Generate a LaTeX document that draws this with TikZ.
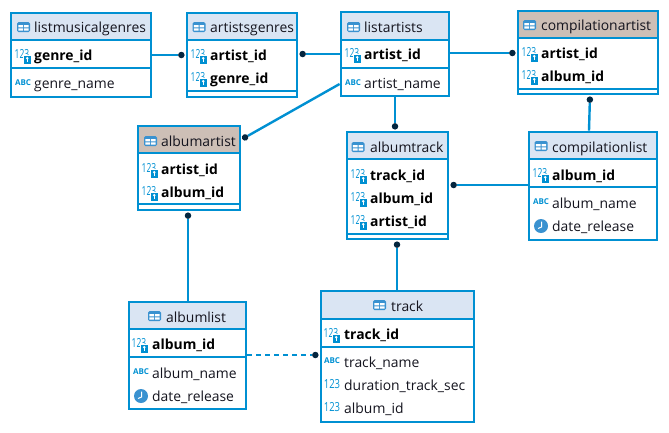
\documentclass[tikz,border=0pt]{standalone}
\usepackage{fontspec}
\setmainfont{Open Sans}
\usetikzlibrary{arrows.meta}
\definecolor{dbblue}{HTML}{0090D2}
\definecolor{headblue}{HTML}{DAE5F3}
\definecolor{headbrown}{HTML}{CDBFB6}
\definecolor{iconblue}{HTML}{3A92D0}
\definecolor{inktext}{HTML}{14141E}
\definecolor{dotink}{HTML}{04263F}

\begin{document}
\begin{tikzpicture}[
    x=1pt, y=-1pt,
    tablebox/.style={draw=dbblue, line width=2.8pt, minimum width=#1, inner sep=0pt},
    sepline/.style={draw=dbblue, line width=1.2pt},
    headtext/.style={anchor=west, inner sep=0pt, font=\fontsize{13.9}{14}\selectfont, text=inktext,
                     text height=12pt, text depth=2pt},
    coltext/.style={headtext},
    keytext/.style={headtext, font=\fontsize{13.9}{14}\selectfont\bfseries, text=black},
    link/.style={draw=dbblue, line width=2.4pt, -{Circle[length=6.5pt,width=6.5pt,fill=dotink,line width=0pt,color=dotink]}, shorten >=1pt},
    tblicon/.pic={
        \fill[iconblue, rounded corners=1.5pt] (-6.5,-5) rectangle (6.5,5);
        \fill[white] (-5.2,-1.8) rectangle (-0.5,0.3) (0.5,-1.8) rectangle (5.2,0.3);
        \fill[white] (-5.2,1.3) rectangle (-0.5,3.6) (0.5,1.3) rectangle (5.2,3.6);
    },
    numicon/.pic={
        \node[inner sep=0pt, text=dbblue, font=\fontsize{10}{10}\selectfont] (numtext) at (0,0) {\scalebox{.95}[1.25]{123}};
    },
    keyicon/.pic={
        \node[inner sep=0pt, text=dbblue, font=\fontsize{10}{10}\selectfont] (keytxt) at (-1,-0.5) {\scalebox{.85}[1.25]{123}};
        \fill[white] (-0.5,0) rectangle (8.5,8.5);
        \fill[dbblue] (0.5,1) rectangle (8,8.5);
        \fill[white] (4.2,3.2) circle (1.4pt);
        \draw[white, line width=0.7pt] (4.2,4) -- (4.2,7);
    },
    abcicon/.pic={
        \node[inner sep=0pt, text=dbblue, font=\fontsize{8}{8}\selectfont\bfseries] (abctxt) at (0,0) {ABC};
    },
    clockicon/.pic={
        \fill[iconblue] (0,0) circle (7pt);
        \draw[white, line width=1pt] (0.6,-4.5) -- (0.6,1) -- (-3,2.5);
    },
]
\useasboundingbox (0,0) rectangle (669,432);

% header fills
\fill[headblue] (11,13) rectangle (151,40);
\fill[headblue] (187,13) rectangle (297,40);
\fill[headblue] (341,12) rectangle (449,40);
\fill[headbrown] (518,11) rectangle (658,38);
\fill[headbrown] (138,126) rectangle (240,153);
\fill[headblue] (347,132) rectangle (448,159);
\fill[headblue] (529,132) rectangle (657,159);
\fill[headblue] (129,302) rectangle (246,329);
\fill[headblue] (321,291) rectangle (474,319);

% tables
\node[tablebox=140pt, minimum height=84pt] (lmg) at (81,55) {};
\node[tablebox=110pt, minimum height=84pt] (ag) at (242,55) {};
\node[tablebox=108pt, minimum height=84pt] (la) at (395,54) {};
\node[tablebox=140pt, minimum height=83pt] (ca) at (588,52.5) {};
\node[tablebox=102pt, minimum height=84pt] (aa) at (189,168) {};
\node[tablebox=101pt, minimum height=107pt] (at) at (397.5,185.5) {};
\node[tablebox=128pt, minimum height=108pt] (cl) at (593,186) {};
\node[tablebox=117pt, minimum height=107pt] (al) at (187.5,355.5) {};
\node[tablebox=153pt, minimum height=131pt] (tr) at (397.5,356.5) {};

% separators
\foreach \xa/\xb/\y in {11/151/40, 11/151/68, 187/297/40, 187/297/91, 341/449/40, 341/449/68,
    518/658/38, 518/658/89, 138/240/153, 138/240/204, 347/448/159, 347/448/234,
    529/657/159, 529/657/187, 129/246/329, 129/246/357, 321/474/319, 321/474/347}
    \draw[sepline] (\xa,\y) -- (\xb,\y);

% icons
\foreach \x/\y in {23.5/27, 199/27, 353.5/27, 529.5/25, 150.5/141, 358/147, 541/146, 154.5/316, 379.5/305}
    \pic at (\x,\y) {tblicon};
\foreach \x/\y in {23/55, 199/55, 199/78, 353/54, 530/53, 530/76, 150/169, 150/192,
    359/175, 359/198, 359/221, 541/174, 140/344, 332/334}
    \pic at (\x,\y) {keyicon};
\foreach \x/\y in {23/83, 353/83, 541/202, 141/372, 332/361}
    \pic at (\x,\y) {abcicon};
\foreach \x/\y in {541/226, 141/396}
    \pic at (\x,\y) {clockicon};
\foreach \x/\y in {332/384, 332/407}
    \pic at (\x,\y) {numicon};

% listmusicalgenres
\node[headtext] (lmgname) at (34,27) {listmusicalgenres};
\node[keytext] (lmggenre) at (34,55.5) {genre\_id};
\node[coltext] (lmgtitle) at (34,83) {genre\_name};
% artistsgenres
\node[headtext] (agname) at (210,27) {artistsgenres};
\node[keytext] (agartist) at (210,55.5) {artist\_id};
\node[keytext] (aggenre) at (210,78) {genre\_id};
% listartists
\node[headtext] (laname) at (364,27) {listartists};
\node[keytext] (laartist) at (364,54.5) {artist\_id};
\node[coltext] (latitle) at (364,83) {artist\_name};
% compilationartist
\node[headtext] (caname) at (541,25.5) {compilationartist};
\node[keytext] (caartist) at (541,53) {artist\_id};
\node[keytext] (caalbum) at (541,76) {album\_id};
% albumartist
\node[headtext] (aaname) at (161,141) {albumartist};
\node[keytext] (aaartist) at (161,169) {artist\_id};
\node[keytext] (aaalbum) at (161,192) {album\_id};
% albumtrack
\node[headtext] (atname) at (370,147) {albumtrack};
\node[keytext] (attrack) at (370,175) {track\_id};
\node[keytext] (atalbum) at (370,198) {album\_id};
\node[keytext] (atartist) at (370,221) {artist\_id};
% compilationlist
\node[headtext] (clname) at (552,147) {compilationlist};
\node[keytext] (clalbum) at (552,175) {album\_id};
\node[coltext] (cltitle) at (552,203) {album\_name};
\node[coltext] (cldate) at (552,226) {date\_release};
% albumlist
\node[headtext] (alname) at (166,317) {albumlist};
\node[keytext] (alalbum) at (152,344) {album\_id};
\node[coltext] (altitle) at (152,373) {album\_name};
\node[coltext] (aldate) at (152,396) {date\_release};
% track
\node[headtext] (trname) at (391,306) {track};
\node[keytext] (trtrack) at (344,334) {track\_id};
\node[coltext] (trtitle) at (344,362) {track\_name};
\node[coltext] (trdur) at (344,385) {duration\_track\_sec};
\node[coltext] (tralbum) at (344,408) {album\_id};

% connectors
\draw[link] (lmg.east |- 0,55) -- (ag.west |- 0,55);
\draw[link] (la.west |- 0,54) -- (ag.east |- 0,54);
\draw[link] (la.east |- 0,53) -- (ca.west |- 0,53);
\draw[link] (la.west |- 0,84) -- (aa.east |- 0,139.5);
\draw[link] (la.south) -- (at.north -| la.south);
\draw[link] (cl.north -| 589,0) -- (ca.south -| 590,0);
\draw[link] (cl.west |- 0,185) -- (at.east |- 0,185);
\draw[link] (al.north -| 188,0) -- (aa.south -| 188,0);
\draw[link] (tr.north -| 397,0) -- (at.south -| 397,0);
\draw[link, dash pattern=on 5pt off 4pt] (al.east |- 0,355) -- (tr.west |- 0,355);
\end{tikzpicture}
\end{document}
